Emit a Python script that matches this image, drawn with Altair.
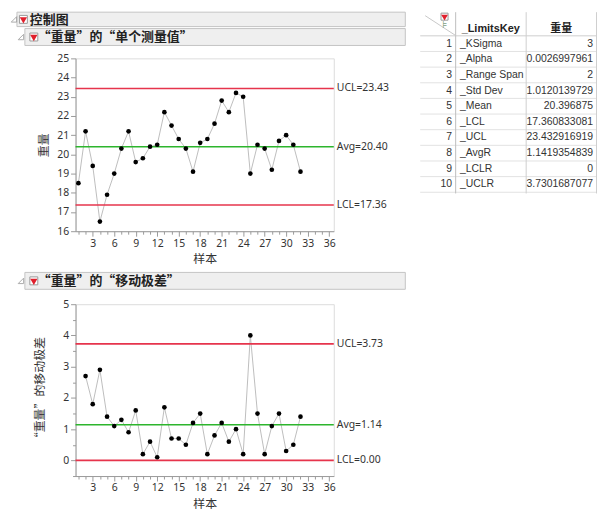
import altair as alt
import pandas as pd

# ---------------- data ----------------
samples = list(range(1, 33))
weights = [18.5, 21.2, 19.4, 16.5, 17.9, 19.0, 20.3, 21.2, 19.6, 19.8,
           20.4, 20.5, 22.2, 21.5, 20.8, 20.3, 19.1, 20.6, 20.8, 21.6,
           22.8, 22.2, 23.2, 23.0, 19.0, 20.5, 20.3, 19.2, 20.7, 21.0,
           20.5, 19.1]
mr_samples = list(range(2, 33))
moving_ranges = [2.7, 1.8, 2.9, 1.4, 1.1, 1.3, 0.9, 1.6, 0.2, 0.6,
                 0.1, 1.7, 0.7, 0.7, 0.5, 1.2, 1.5, 0.2, 0.8, 1.2,
                 0.6, 1.0, 0.2, 4.0, 1.5, 0.2, 1.1, 1.5, 0.3, 0.5,
                 1.4]
limit_names = ["UCL", "Avg", "LCL"]
ind_limits = [23.432916919, 20.396875, 17.360833081]
mr_limits = [3.7301687077, 1.1419354839, 0.0]

table_rows = list(range(1, 11))
table_keys = ["_KSigma", "_Alpha", "_Range Span", "_Std Dev", "_Mean",
              "_LCL", "_UCL", "_AvgR", "_LCLR", "_UCLR"]
table_values = ["3", "0.0026997961", "2", "1.0120139729", "20.396875",
                "17.360833081", "23.432916919", "1.1419354839", "0",
                "3.7301687077"]

title_main = "控制图"
title_ind = "“重量”的“单个测量值”"
title_mr = "“重量”的“移动极差”"
x_title = "样本"
y_title_ind = "重量"
y_title_mr = "“重量”的移动极差"

# ---------------- style ----------------
FONT = "Noto Sans, Noto Sans CJK SC, sans-serif"
TFONT = "Liberation Sans, Noto Sans CJK SC, sans-serif"
CJK = "Noto Sans CJK SC"
RED = "#e6344c"
GREEN = "#2db52d"
AX = "#9a9a9a"
TXT = "#333333"
HDR_FILL = "#efefef"
HDR_STROKE = "#c4c4c4"
TOP = -46.5

df_ind = pd.DataFrame({"sample": samples, "value": weights})
df_mr = pd.DataFrame({"sample": mr_samples, "value": moving_ranges})
df_ind_lim = pd.DataFrame({"kind": limit_names, "value": ind_limits})
df_ind_lim["label"] = [f"{k}={v:.2f}" for k, v in zip(limit_names, ind_limits)]
df_mr_lim = pd.DataFrame({"kind": limit_names, "value": mr_limits})
df_mr_lim["label"] = [f"{k}={v:.2f}" for k, v in zip(limit_names, mr_limits)]
df_tab = pd.DataFrame({"row": table_rows, "key": table_keys, "val": table_values})

W, H_A, H_B = 260, 174, 173
x_scale = alt.Scale(domain=[0.6, 36.65], nice=False, zero=False)
color_scale = alt.Scale(domain=limit_names, range=[RED, GREEN, RED])


def x_axis():
    return alt.Axis(values=list(range(1, 37)),
                    labelExpr="datum.value % 3 == 0 ? datum.label : ''",
                    tickSize={"condition": {"test": "datum.value % 3 == 0", "value": 5}, "value": 3},
                    labelFlush=False, labelOverlap=False, grid=False, title=x_title,
                    domainColor=AX, tickColor=AX, labelColor=TXT,
                    labelFontSize=10.5, labelFont=FONT, labelPadding=2,
                    titleFont=CJK, titleFontSize=12, titleFontWeight="normal",
                    titleColor=TXT, titleY=27.5, titleBaseline="middle")


def y_axis(values, title, height, title_x, minor=False):
    kw = {}
    if minor:
        kw["labelExpr"] = "datum.value % 1 == 0 ? format(datum.value, 'd') : ''"
        kw["tickSize"] = {"condition": {"test": "datum.value % 1 == 0", "value": 5}, "value": 3}
    else:
        kw["tickSize"] = 5
    return alt.Axis(values=values, grid=False, title=title,
                    domainColor=AX, tickColor=AX, labelColor=TXT,
                    labelFontSize=10.5, labelFont=FONT, labelPadding=2,
                    labelFlush=False, labelOverlap=False,
                    titleFont=CJK, titleFontSize=12, titleFontWeight="normal",
                    titleColor=TXT, titleX=title_x, titleY=height / 2,
                    titleAngle=270, titleAlign="center", titleBaseline="middle", **kw)


def header(text, rect_x0, rect_x1, y0, y1, tri_x, icon_x, text_x, size=13):
    one = alt.Chart(pd.DataFrame({"t": [text]}))
    yc = (y0 + y1) / 2
    rect = one.mark_rect(fill=HDR_FILL, stroke=HDR_STROKE, strokeWidth=1).encode(
        x=alt.value(rect_x0), x2=alt.value(rect_x1), y=alt.value(y0), y2=alt.value(y1))
    tri = one.mark_point(shape="M1,-1L1,1L-1,1Z", filled=False, stroke="#8a8a8a",
                         strokeWidth=1, size=30).encode(x=alt.value(tri_x), y=alt.value(yc))
    box = one.mark_square(fill="white", stroke="#9a9a9a", strokeWidth=1, size=64,
                          opacity=1).encode(x=alt.value(icon_x), y=alt.value(yc))
    arrow = one.mark_point(shape="triangle-down", filled=True, fill="#e0202c",
                           stroke="#e0202c", size=15, opacity=1).encode(
        x=alt.value(icon_x), y=alt.value(yc + 0.5))
    label = one.mark_text(align="left", baseline="middle", font=CJK, fontSize=size,
                          fontWeight="bold", color="#222222").encode(
        x=alt.value(text_x), y=alt.value(yc + 0.5), text="t:N")
    return [rect, tri, box, arrow, label]


def control_panel(df, df_lim, y_dom, y_vals, y_title, height, title_x, minor):
    y_scale = alt.Scale(domain=y_dom, nice=False, zero=False)
    xa = x_axis()
    ya = y_axis(y_vals, y_title, height, title_x, minor)
    yenc = lambda: alt.Y("value:Q", scale=y_scale, axis=ya, title=y_title)
    xenc = lambda: alt.X("sample:Q", scale=x_scale, axis=xa, title=x_title)
    rules = alt.Chart(df_lim).mark_rule(strokeWidth=1.6).encode(
        y=yenc(), color=alt.Color("kind:N", scale=color_scale, legend=None))
    lim_text = alt.Chart(df_lim).mark_text(align="left", baseline="middle", font=FONT,
                                           fontSize=10.5, color=TXT).encode(
        x=alt.value(W + 3), y=yenc(), text="label:N")
    line = alt.Chart(df).mark_line(color="#bdbdbd", strokeWidth=1).encode(
        x=xenc(), y=yenc())
    pts = alt.Chart(df).mark_circle(color="black", size=22, opacity=1).encode(
        x=xenc(), y=yenc())
    return [line, rules, pts, lim_text]


# ---------------- panel A (individual measurements) ----------------
layers_A = (control_panel(df_ind, df_ind_lim, [16, 25], list(range(16, 26)),
                          y_title_ind, H_A, -32, False) +
            header(title_main, -59, 332, TOP, -32, -62, -52.5, -46) +
            header(title_ind, -51, 332, -30, -13, -55, -42, -38))
chartA = alt.layer(*layers_A).properties(width=W, height=H_A)

# ---------------- panel B (moving range) ----------------
mr_ticks = [v / 2 for v in range(-1, 11)]
layers_B = (control_panel(df_mr, df_mr_lim, [-0.5, 5], mr_ticks, y_title_mr, H_B, -36, True) +
            header(title_mr, -51, 332, -32, -15, -55, -42, -38))
chartB = alt.layer(*layers_B).properties(width=W, height=H_B)

# ---------------- limits table ----------------
row_scale = alt.Scale(domain=[0.5, 10.5], range=[-22.7, 134.8], nice=False, zero=False)
tab = alt.Chart(df_tab)
one = alt.Chart(pd.DataFrame({"t": ["_LimitsKey"], "u": ["重量"]}))
vlines = [one.mark_rule(color=c, strokeWidth=1).encode(
    x=alt.value(xv), y=alt.value(TOP), y2=alt.value(136))
    for xv, c in [(35.7, "#bdbdbd"), (106.7, "#cfcfcf"), (177.5, "#cfcfcf")]]
row_lines = tab.transform_calculate(edge="datum.row + 0.5").mark_rule(
    color="#e2e2e2", strokeWidth=1).encode(
    y=alt.Y("edge:Q", scale=row_scale, axis=None), x=alt.value(0), x2=alt.value(177.5))
head_line = one.mark_rule(color="#cfcfcf", strokeWidth=1).encode(
    y=alt.datum(0.5, scale=row_scale, axis=None), x=alt.value(0), x2=alt.value(177.5))
diag = one.mark_rule(color="#c8c8c8", strokeWidth=1).encode(
    x=alt.value(5), x2=alt.value(35.7), y=alt.value(-43), y2=alt.value(-23))
tbox = one.mark_square(fill="white", stroke="#9a9a9a", strokeWidth=1, size=50,
                       opacity=1).encode(x=alt.value(24.5), y=alt.value(-42))
tarrow = one.mark_point(shape="triangle-down", filled=True, fill="#e0202c",
                        stroke="#e0202c", size=11, opacity=1).encode(
    x=alt.value(24.5), y=alt.value(-41.5))
ticon = one.mark_text(text="⊧", font="DejaVu Sans", fontSize=10, color="#7f9f7f",
                      baseline="middle").encode(x=alt.value(24.5), y=alt.value(-34))
h_key = one.mark_text(font=TFONT, fontSize=11, fontWeight="bold", color="#222",
                      baseline="middle").encode(x=alt.value(71), y=alt.value(-30), text="t:N")
h_val = one.mark_text(font=CJK, fontSize=11, fontWeight="bold", color="#222",
                      baseline="middle").encode(x=alt.value(142), y=alt.value(-30), text="u:N")
t_num = tab.mark_text(align="right", baseline="middle", font=TFONT, fontSize=10.5,
                      color=TXT).encode(
    x=alt.value(32), y=alt.Y("row:Q", scale=row_scale, axis=None), text="row:N")
t_key = tab.mark_text(align="left", baseline="middle", font=TFONT, fontSize=10.5,
                      color=TXT).encode(
    x=alt.value(40), y=alt.Y("row:Q", scale=row_scale, axis=None), text="key:N")
t_val = tab.mark_text(align="right", baseline="middle", font=TFONT, fontSize=10.5,
                      color=TXT).encode(
    x=alt.value(174), y=alt.Y("row:Q", scale=row_scale, axis=None), text="val:N")

table = alt.layer(row_lines, head_line, *vlines, diag, tbox, tarrow, ticon,
                  h_key, h_val, t_num, t_key, t_val).properties(
    width=176, height=H_A, view=alt.ViewBackground(stroke="transparent"))

chart = alt.concat(chartA, table, chartB, columns=2,
                   spacing={"row": 73.5, "column": 87}, bounds="flush").properties(
    padding=0, background="white"
).configure_view(stroke="#a6a6a6", strokeWidth=1).configure(font=FONT)

chart.save("out.html", embed_options={"renderer": "svg", "actions": False})
